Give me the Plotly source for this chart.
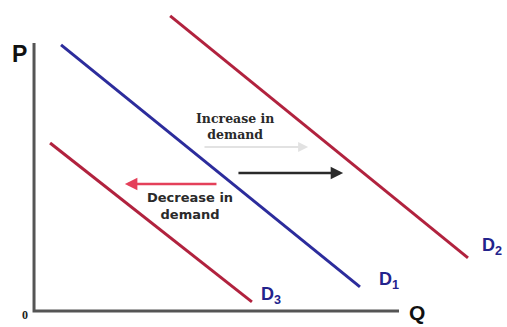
import plotly.graph_objects as go

# Demand curves (Q, P) endpoints in chart units
d1_q = [0.74, 8.93]
d1_p = [9.93, 0.90]
d2_q = [3.73, 11.89]
d2_p = [11.01, 1.98]
d3_q = [0.44, 5.97]
d3_p = [6.27, 0.34]

# Axes
axis_q = [0, 0, 10]
axis_p = [10, 0, 0]

curve_labels = ["D<sub>1</sub>", "D<sub>2</sub>", "D<sub>3</sub>"]
label_q = [9.40, 12.22, 6.17]
label_p = [1.15, 2.40, 0.56]

BLUE = "#2c2c9c"
RED = "#b1223e"
LABEL = "#23238c"

fig = go.Figure()
fig.add_trace(go.Scatter(x=axis_q, y=axis_p, mode="lines",
                         line=dict(color="#555555", width=3), hoverinfo="skip"))
fig.add_trace(go.Scatter(x=d2_q, y=d2_p, mode="lines", line=dict(color=RED, width=3)))
fig.add_trace(go.Scatter(x=d1_q, y=d1_p, mode="lines", line=dict(color=BLUE, width=3)))
fig.add_trace(go.Scatter(x=d3_q, y=d3_p, mode="lines", line=dict(color=RED, width=3)))

for t, q, p in zip(curve_labels, label_q, label_p):
    fig.add_annotation(x=q, y=p, text="<b>" + t + "</b>", showarrow=False,
                       xanchor="left", yanchor="middle",
                       font=dict(family="Liberation Sans", size=18, color=LABEL))

# axis letters
fig.add_annotation(x=-0.40, y=9.60, text="<b>P</b>", showarrow=False,
                   font=dict(family="Liberation Sans", size=23, color="#111"))
fig.add_annotation(x=10.50, y=-0.05, text="<b>Q</b>", showarrow=False,
                   yanchor="middle",
                   font=dict(family="Liberation Sans", size=21, color="#111"))
fig.add_annotation(x=-0.25, y=-0.15, text="<b>0</b>", showarrow=False,
                   font=dict(family="Liberation Serif", size=12, color="#222"))

# texts
fig.add_annotation(x=5.51, y=6.90, text="<b>Increase in<br>demand</b>", showarrow=False,
                   font=dict(family="DejaVu Serif", size=12.5, color="#2a2a2a"))
fig.add_annotation(x=4.27, y=3.92, text="<b>Decrease in<br>demand</b>", showarrow=False,
                   font=dict(family="DejaVu Sans", size=13, color="#2a2a2a"))

# arrows
fig.add_annotation(x=7.51, y=6.12, ax=4.63, ay=6.12, axref="x", ayref="y",
                   xref="x", yref="y", text="", showarrow=True,
                   arrowhead=2, arrowsize=1, arrowwidth=2, arrowcolor="#e2e2e2")
fig.add_annotation(x=8.47, y=5.15, ax=5.56, ay=5.15, axref="x", ayref="y",
                   xref="x", yref="y", text="", showarrow=True,
                   arrowhead=2, arrowsize=1, arrowwidth=2.5, arrowcolor="#2a2a2a")
fig.add_annotation(x=2.49, y=4.74, ax=5.04, ay=4.74, axref="x", ayref="y",
                   xref="x", yref="y", text="", showarrow=True,
                   arrowhead=2, arrowsize=1, arrowwidth=2.5, arrowcolor="#e4405a")

fig.update_layout(
    width=507, height=327,
    margin=dict(l=0, r=0, t=0, b=0),
    paper_bgcolor="white", plot_bgcolor="white",
    showlegend=False,
    xaxis=dict(range=[-0.932, 12.959], visible=False, fixedrange=True),
    yaxis=dict(range=[-0.597, 11.604], visible=False, fixedrange=True),
)

fig.write_html("out.html", config={"displayModeBar": False},
               post_script="document.body.style.margin='0';document.body.style.overflow='hidden';")
